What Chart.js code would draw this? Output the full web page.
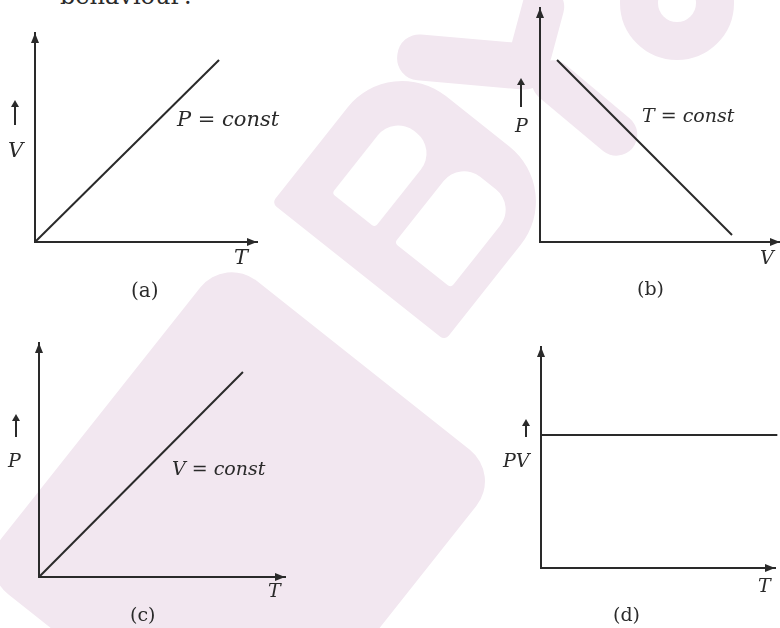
<!DOCTYPE html>
<html>
<head>
<meta charset="utf-8">
<script src="https://cdn.jsdelivr.net/npm/chart.js@4"></script>
<style>
  body { margin: 0; background: #fff; }
  #page { position: relative; width: 780px; height: 628px; overflow: hidden; background: #fff; }
  canvas { position: absolute; }
  .wm { position: absolute; background: #f2e7f0; border-radius: 22px; }
  .hole { position: absolute; background: #fff; border-radius: 4px 26px 26px 4px; }
  .lbl { position: absolute; font-family: "DejaVu Serif", serif; font-style: italic; color: #2a2a2a; line-height: 1; white-space: nowrap; }
  .cap { font-style: normal; }
  .up { position: absolute; width: 2px; background: #2a2a2a; }
  .up::before { content: ""; position: absolute; left: -3px; top: -6px; border-left: 4px solid transparent; border-right: 4px solid transparent; border-bottom: 7px solid #2a2a2a; }
</style>
</head>
<body>
<div id="page">
  <!-- faint watermark behind the figure -->
  <div class="wm" style="left:63px; top:322px; width:352px; height:400px; transform:rotate(38.4deg); border-radius:40px;"></div>
  <div class="wm" style="left:322px; top:86px; width:192px; height:221px; transform:rotate(-51.6deg); border-radius:6px 70px 70px 6px;">
    <div class="hole" style="left:45px; top:41px; width:100px; height:55px;"></div>
    <div class="hole" style="left:45px; top:121px; width:105px; height:72px;"></div>
  </div>
  <div class="wm" style="left:397px; top:39px; width:150px; height:46px; transform:rotate(5deg);"></div>
  <div class="wm" style="left:492px; top:9px; width:90px; height:42px; transform:rotate(-75deg);"></div>
  <div class="wm" style="left:522px; top:87px; width:125px; height:42px; transform:rotate(40deg);"></div>
  <div style="position:absolute; left:620px; top:-54px; width:38px; height:38px; border:38px solid #f2e7f0; border-radius:50%;"></div>

  <span class="lbl cap" style="left:60px; top:-16px; font-size:24px;">behaviour?</span>

  <canvas id="chartA" width="390" height="314" style="left:0; top:0;"></canvas>
  <canvas id="chartB" width="390" height="314" style="left:390px; top:0;"></canvas>
  <canvas id="chartC" width="390" height="314" style="left:0; top:314px;"></canvas>
  <canvas id="chartD" width="390" height="314" style="left:390px; top:314px;"></canvas>

  <!-- (a) -->
  <span class="lbl" style="left:177px; top:109px; font-size:21px;">P = const</span>
  <span class="lbl" style="left:234px; top:247px; font-size:21px;">T</span>
  <span class="lbl cap" style="left:131px; top:280px; font-size:20px;">(a)</span>
  <div class="up" style="left:14px; top:106px; height:19px;"></div>
  <span class="lbl" style="left:8px; top:140px; font-size:21px;">V</span>

  <!-- (b) -->
  <span class="lbl" style="left:642px; top:106px; font-size:19px;">T = const</span>
  <div class="up" style="left:520px; top:84px; height:23px;"></div>
  <span class="lbl" style="left:515px; top:116px; font-size:19px;">P</span>
  <span class="lbl" style="left:760px; top:248px; font-size:19px;">V</span>
  <span class="lbl cap" style="left:637px; top:279px; font-size:19px;">(b)</span>

  <!-- (c) -->
  <span class="lbl" style="left:172px; top:459px; font-size:19px;">V = const</span>
  <div class="up" style="left:15px; top:420px; height:17px;"></div>
  <span class="lbl" style="left:8px; top:451px; font-size:19px;">P</span>
  <span class="lbl" style="left:268px; top:581px; font-size:19px;">T</span>
  <span class="lbl cap" style="left:130px; top:605px; font-size:19px;">(c)</span>

  <!-- (d) -->
  <div class="up" style="left:525px; top:425px; height:12px;"></div>
  <span class="lbl" style="left:503px; top:451px; font-size:19px;">PV</span>
  <span class="lbl" style="left:758px; top:576px; font-size:19px;">T</span>
  <span class="lbl cap" style="left:613px; top:605px; font-size:19px;">(d)</span>
</div>

<script>
const INK = '#2a2a2a';

// (a) V against T at constant P
const aT = [0, 8.29];
const aV = [0, 8.71];
// (b) P against V at constant T
const bV = [0.71, 8.0];
const bP = [7.78, 0.30];
// (c) P against T at constant V
const cT = [0, 8.29];
const cP = [0, 8.76];
// (d) PV against T
const dT = [0, 10.1];
const dPV = [6.02, 6.02];

// arrow heads on the ends of both axes
const arrowHeads = {
  id: 'arrowHeads',
  afterDraw(chart) {
    const { ctx, chartArea: a } = chart;
    ctx.save();
    ctx.fillStyle = INK;
    ctx.beginPath();
    ctx.moveTo(a.right, a.bottom);
    ctx.lineTo(a.right - 10, a.bottom - 4);
    ctx.lineTo(a.right - 10, a.bottom + 4);
    ctx.fill();
    ctx.beginPath();
    ctx.moveTo(a.left, a.top);
    ctx.lineTo(a.left - 4, a.top + 10);
    ctx.lineTo(a.left + 4, a.top + 10);
    ctx.fill();
    ctx.restore();
  }
};

function axis() {
  return {
    type: 'linear',
    min: 0,
    max: 10,
    ticks: { display: false },
    grid: { display: false, drawTicks: false },
    border: { display: true, color: INK, width: 2 }
  };
}

function makePanel(id, xs, ys, padding) {
  new Chart(document.getElementById(id), {
    type: 'scatter',
    data: {
      datasets: [{
        data: xs.map((x, i) => ({ x: x, y: ys[i] })),
        showLine: true,
        borderColor: INK,
        borderWidth: 2,
        pointRadius: 0,
        clip: false
      }]
    },
    options: {
      responsive: false,
      animation: false,
      layout: { padding: padding },
      plugins: { legend: { display: false }, tooltip: { enabled: false } },
      scales: { x: axis(), y: axis() }
    },
    plugins: [arrowHeads]
  });
}

makePanel('chartA', aT, aV, { left: 35, top: 33, right: 133, bottom: 72 });
makePanel('chartB', bV, bP, { left: 150, top: 8, right: 0, bottom: 72 });
makePanel('chartC', cT, cP, { left: 39, top: 29, right: 105, bottom: 51 });
makePanel('chartD', dT, dPV, { left: 151, top: 33, right: 5, bottom: 60 });
</script>
</body>
</html>
